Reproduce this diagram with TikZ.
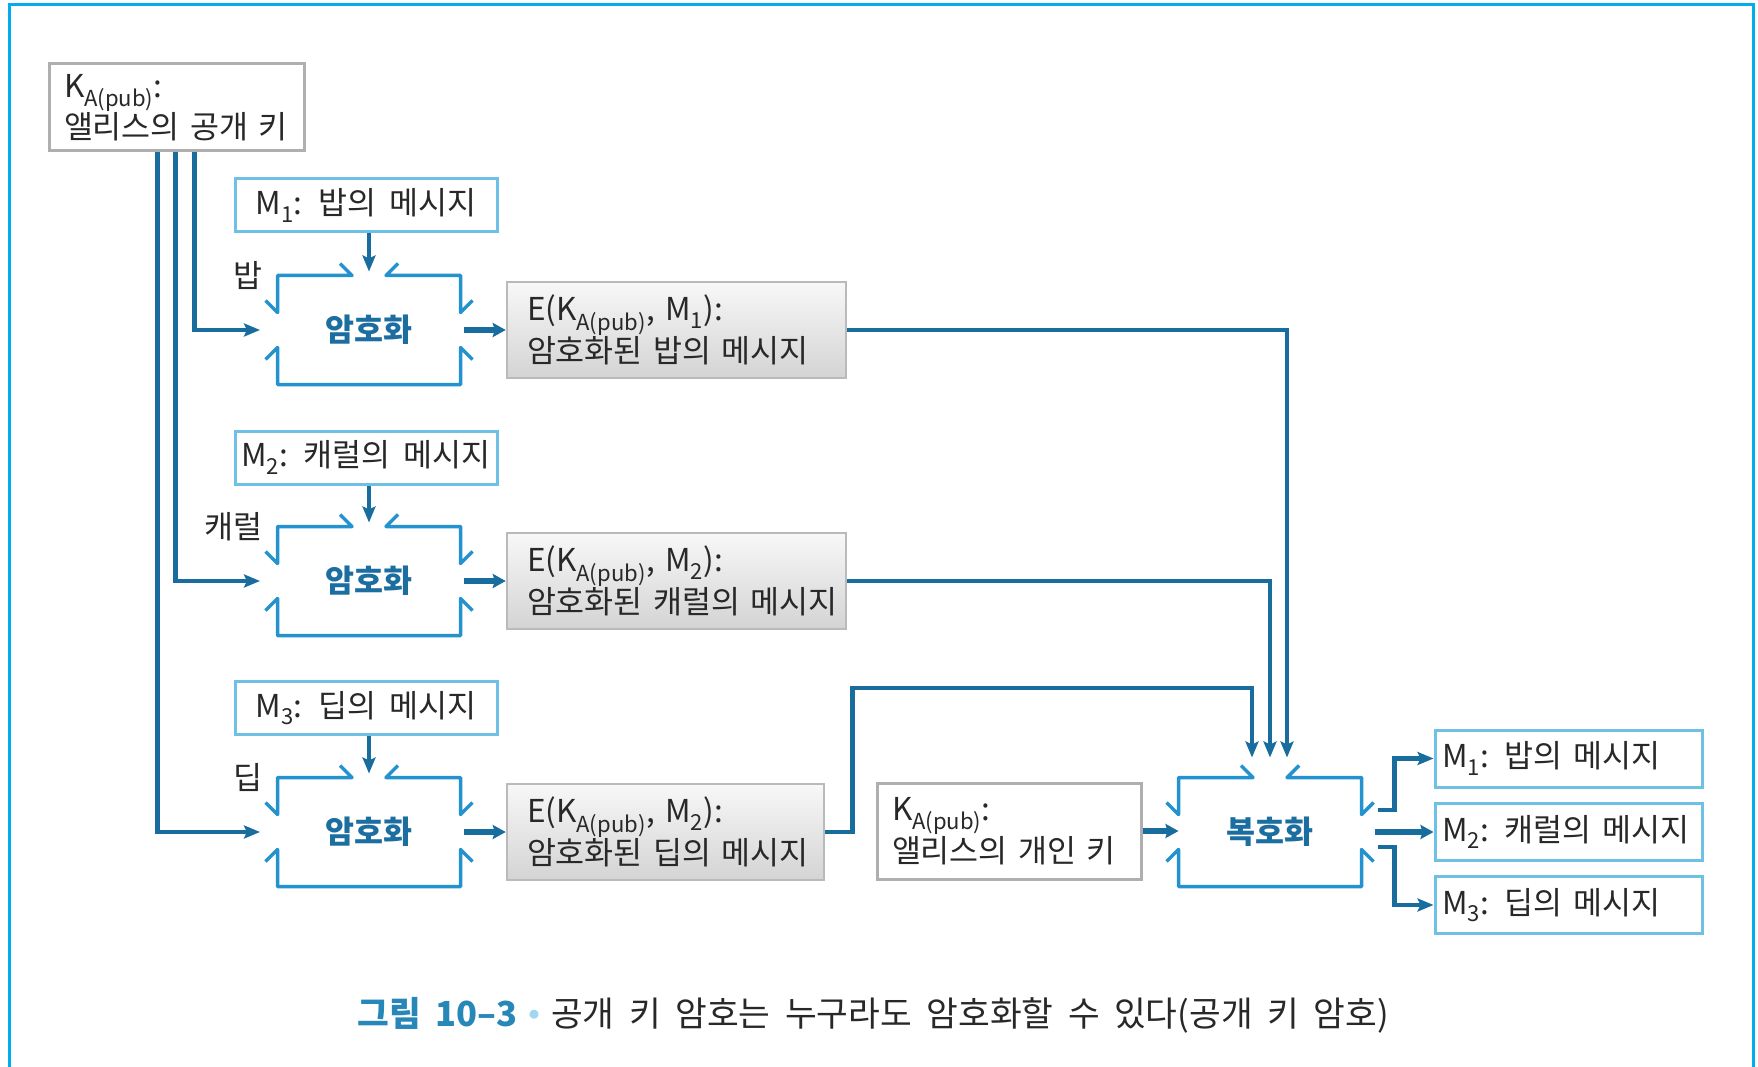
\documentclass[tikz,border=0pt]{standalone}
\usepackage{fontspec}
\setmainfont{Noto Sans CJK KR}
\usetikzlibrary{arrows.meta,calc}
\definecolor{framec}{RGB}{0,174,239}
\definecolor{connc}{RGB}{24,108,158}
\definecolor{brkc}{RGB}{36,146,206}
\definecolor{mboxc}{RGB}{110,192,230}
\definecolor{gboxc}{RGB}{175,175,175}
\definecolor{txtc}{RGB}{40,40,40}
\definecolor{enctxtc}{RGB}{28,110,160}
\definecolor{capbluec}{RGB}{40,135,185}
\definecolor{dotc}{RGB}{160,214,238}
\newcommand\bodyfont{\fontsize{31.5}{38}\selectfont\spaceskip=0.42em\relax}
\newcommand\capfontx{\fontsize{34.5}{38}\selectfont\spaceskip=0.42em\relax}
\newcommand\twol[2]{\mbox{#1}\\\mbox{#2}}
\newcommand\brackets[1]{%
  \draw[brkline] ($(#1.north)+(-29,-12)$) -- ($(#1.north)+(-17,0)$) -- (#1.north west) -- ($(#1.west)+(0,-17.5)$) -- ++(-12,-12);
  \draw[brkline] ($(#1.north)+(29,-12)$) -- ($(#1.north)+(17,0)$) -- (#1.north east) -- ($(#1.east)+(0,-17.5)$) -- ++(12,-12);
  \draw[brkline] ($(#1.west)+(-12,29.5)$) -- ($(#1.west)+(0,17.5)$) -- (#1.south west) -- (#1.south east) -- ($(#1.east)+(0,17.5)$) -- ++(12,12);
}
\tikzset{
  every node/.style={text=txtc, font=\bodyfont},
  conn/.style={draw=connc, line width=4.5pt, -{Stealth[length=16pt,width=13pt,inset=3pt]}},
  fatconn/.style={draw=connc, line width=6.5pt, -{Stealth[length=13pt,width=14pt,inset=2pt]}},
  brkline/.style={draw=brkc, line width=3.5pt, line join=round},
  framel/.style={draw=framec, line width=3pt},
  inbox/.style={draw=mboxc, line width=3pt, fill=white, minimum width=262, minimum height=53, inner sep=0pt},
  outbox/.style={draw=mboxc, line width=3pt, fill=white, minimum width=267, minimum height=57, inner xsep=7pt, inner ysep=0pt, text width=253pt, align=left},
  keybox/.style={draw=gboxc, line width=3pt, fill=white, minimum height=#1, inner xsep=15pt, inner ysep=0pt, align=left},
  ebox/.style={draw=black!27, line width=2.5pt, top color=black!3, bottom color=black!17, minimum height=96, inner xsep=20pt, inner ysep=0pt, align=left},
  encbox/.style={minimum width=183, minimum height=109, inner sep=0pt, outer sep=0pt, text=enctxtc, font=\bodyfont\bfseries},
  sidelabel/.style={anchor=east, inner sep=0pt},
}
\begin{document}
\begin{tikzpicture}[x=1pt,y=-1pt]
\useasboundingbox (0,0) rectangle (1758,1067);
\fill[white] (0,0) rectangle (1758,1067);
\draw[framel] (9,1067) -- (9,5) -- (1753,5) -- (1753,1067);

% public key
\node[keybox=87, text width=225pt] (key) at (176.5,107.5) {\twol{K\textsubscript{A(pub)}:}{앨리스의 공개 키}};

% inputs
\node[inbox] (m1) at (366,205.5) {M\textsubscript{1}: 밥의 메시지};
\node[inbox] (m2) at (366,457.5) {M\textsubscript{2}: 캐럴의 메시지};
\node[inbox] (m3) at (366,708) {M\textsubscript{3}: 딥의 메시지};

% encryption boxes
\node[encbox] (enc1) at (369,330) {암호화};
\node[encbox] (enc2) at (369,581) {암호화};
\node[encbox] (enc3) at (369,832) {암호화};
\brackets{enc1}
\brackets{enc2}
\brackets{enc3}

\node[sidelabel] (l1) at ([xshift=-15]enc1.north west) {밥};
\node[sidelabel] (l2) at ([xshift=-15]enc2.north west) {캐럴};
\node[sidelabel] (l3) at ([xshift=-15]enc3.north west) {딥};

% encrypted messages
\node[ebox, text width=299pt] (e1) at (676.5,330) {\twol{E(K\textsubscript{A(pub)}, M\textsubscript{1}):}{암호화된 밥의 메시지}};
\node[ebox, text width=299pt] (e2) at (676.5,581) {\twol{E(K\textsubscript{A(pub)}, M\textsubscript{2}):}{암호화된 캐럴의 메시지}};
\node[ebox, text width=277pt] (e3) at (665.5,832) {\twol{E(K\textsubscript{A(pub)}, M\textsubscript{2}):}{암호화된 딥의 메시지}};

% private key and decryption
\node[keybox=96, text width=234pt] (priv) at (1009,831) {\twol{K\textsubscript{A(pub)}:}{앨리스의 개인 키}};
\node[encbox] (dec) at (1270,832) {복호화};
\brackets{dec}

% outputs
\node[outbox] (o1) at (1568.5,758.5) {\mbox{M\textsubscript{1}: 밥의 메시지}};
\node[outbox] (o2) at (1568.5,832) {\mbox{M\textsubscript{2}: 캐럴의 메시지}};
\node[outbox] (o3) at (1568.5,905) {\mbox{M\textsubscript{3}: 딥의 메시지}};

% connectors: key to encryption
\draw[conn] ([xshift=147]key.south west) |- ([xshift=-17.5]enc1.west);
\draw[conn] ([xshift=128]key.south west) |- ([xshift=-17.5]enc2.west);
\draw[conn] ([xshift=110]key.south west) |- ([xshift=-17.5]enc3.west);

% messages to encryption
\draw[conn] (m1.south -| enc1.north) -- ([yshift=4]enc1.north);
\draw[conn] (m2.south -| enc2.north) -- ([yshift=4]enc2.north);
\draw[conn] (m3.south -| enc3.north) -- ([yshift=4]enc3.north);

% encryption to ciphertext
\draw[fatconn] ([xshift=3]enc1.east) -- (e1.west);
\draw[fatconn] ([xshift=3]enc2.east) -- (e2.west);
\draw[fatconn] ([xshift=3]enc3.east) -- (e3.west);

% ciphertexts to decryption
\draw[conn] (e1.east) -| ([xshift=17,yshift=20]dec.north);
\draw[conn] (e2.east) -| ([yshift=20]dec.north);
\draw[conn] (e3.east) -- ++(27,0) -- ++(0,-144) -| ([xshift=-18,yshift=20]dec.north);

% private key to decryption
\draw[fatconn] (priv.east) -- (priv.east -| dec.west);

% decryption to outputs
\draw[conn] ([xshift=16,yshift=22]dec.east) -- ++(17,0) |- (o1.west);
\draw[fatconn] ([xshift=13]dec.east) -- (dec.east -| o2.west);
\draw[conn] ([xshift=16,yshift=-15]dec.east) -- ++(17,0) |- (o3.west);

% caption
\node[font=\capfontx] (cap) at (873,1015) {\textcolor{capbluec}{\bfseries 그림 10–3}\hspace{12pt}\raisebox{8pt}{\color{dotc}\fontsize{10}{10}\selectfont ●}\hspace{12pt}공개 키 암호는 누구라도 암호화할 수 있다(공개 키 암호)};
\end{tikzpicture}
\end{document}
